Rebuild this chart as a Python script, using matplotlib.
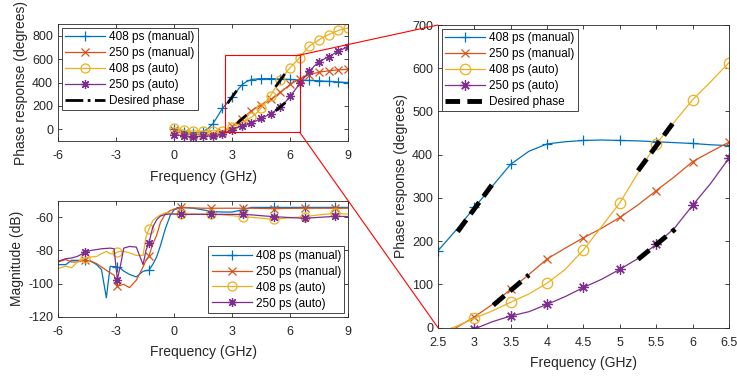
import numpy as np
import matplotlib
matplotlib.use('Agg')
import matplotlib.pyplot as plt
from matplotlib.patches import Rectangle, ConnectionPatch

plt.rcParams['font.family'] = ['Liberation Sans', 'DejaVu Sans']
plt.rcParams['axes.unicode_minus'] = False

# ---------------- data ----------------
labels = ['408 ps (manual)', '250 ps (manual)', '408 ps (auto)', '250 ps (auto)']
desired_label = 'Desired phase'

# phase response (degrees) sampled every 0.25 GHz from 0 to 9 GHz
freq_phase = np.arange(0, 9.001, 0.25)
phase_408_manual = [0, -10, -20, -27, -30, -27, -20, 5, 45, 110, 178, 226, 278, 328, 378, 408,
                    425, 430, 433, 434, 433, 432, 430, 428, 426, 423, 421, 420, 418, 417, 415,
                    412, 410, 407, 405, 402, 400]
phase_250_manual = [-10, -25, -35, -42, -45, -47, -47, -45, -40, -33, -25, 0, 25, 54, 89, 123,
                    159, 184, 208, 230, 255, 284, 317, 349, 384, 407, 429, 450, 468, 478, 488,
                    495, 500, 505, 508, 511, 513]
phase_408_auto = [15, 0, -8, -13, -15, -15, -15, -13, -12, -12, -12, 3, 22, 39, 59, 78,
                  103, 135, 180, 234, 289, 358, 425, 476, 527, 569, 613, 665, 710, 740, 765,
                  790, 810, 828, 845, 857, 865]
phase_250_auto = [-45, -50, -55, -60, -63, -62, -58, -57, -55, -50, -40, -22, -3, 14, 27, 37,
                  54, 72, 93, 112, 135, 160, 193, 230, 283, 334, 392, 445, 495, 540, 575,
                  600, 620, 645, 668, 688, 705]

# desired phase segments (NaN separates segments)
desired_freq = [2.77, 3.24, np.nan, 3.26, 3.75, np.nan, 5.25, 5.73, np.nan, 5.25, 5.76]
desired_phase = [222, 330, np.nan, 52, 122, np.nan, 363, 473, np.nan, 158, 228]

# magnitude (dB)
freq_mag = [-6, -5.6, -5.3, -5.0, -4.6, -4.3, -4.0, -3.75, -3.5, -3.3, -3.1, -2.93, -2.75,
            -2.6, -2.3, -1.95, -1.6, -1.45, -1.3, -1.1, -0.9, -0.7, -0.45, -0.2, 0.0, 0.35,
            1.0, 1.5, 1.93, 2.5, 3.0, 3.55, 4.0, 4.5, 5.15, 5.8, 6.75, 7.5, 8.35, 9.0]
mag_408_manual = [-88.6, -88.6, -86, -86, -86, -86.5, -88.6, -91.6, -108.6, -89.6, -89.8, -90,
                  -91, -92.5, -94.5, -96, -92.6, -92.2, -92, -88.5, -84, -77, -67, -59, -55.5,
                  -54, -54.5, -55.5, -56.5, -56.8, -56.8, -55.5, -54, -54, -54, -54, -54, -54,
                  -54, -54]
mag_250_manual = [-87, -85.5, -87, -87, -86, -86.5, -88, -90, -92, -93.5, -95, -101.5, -101,
                  -100.5, -102.5, -98, -90, -86, -83.5, -76, -71, -63, -58, -56, -55, -54,
                  -54.3, -54.5, -54.5, -54.5, -54.5, -54.5, -54.5, -54.6, -54.8, -54.6, -54.5,
                  -54.5, -54.5, -54.5]
mag_408_auto = [-91, -89.5, -90.5, -87, -84.6, -84, -83.6, -82, -80.6, -82, -82, -81, -80.5,
                -80.6, -81.5, -83, -83, -72, -67.2, -62, -60, -58.6, -57.2, -57.5, -58, -58,
                -58, -58, -58.2, -58.5, -59, -59.6, -60, -60.5, -61.2, -60.5, -59.6, -58.5,
                -57.6, -58]
mag_250_auto = [-86.6, -85, -84.6, -83.6, -81.2, -80, -79.5, -79, -78.8, -78.6, -79, -97.6,
                -88, -78.6, -77.6, -78, -88.6, -80, -75.6, -66, -61.5, -59.2, -58.3, -58, -58,
                -58.2, -58.2, -58.2, -58.2, -58.2, -58.2, -58.2, -58.5, -59, -59.6, -60,
                -60.6, -60, -59.4, -59.5]
mag_marker_idx = [4, 11, 18, 25, 28, 31, 34, 36, 38]

# ---------------- style ----------------
colors = ['#0072BD', '#D95319', '#EDB120', '#7E2F8E']
markers = ['+', 'x', 'o', (8, 2, 0)]
msize_scale = [1.0, 0.85, 1.0, 1.0]
ink = '#262626'

phase_series = [phase_408_manual, phase_250_manual, phase_408_auto, phase_250_auto]
mag_series = [mag_408_manual, mag_250_manual, mag_408_auto, mag_250_auto]

fig = plt.figure(figsize=(7.37, 3.76), dpi=100)
ax1 = fig.add_axes([0.0787, 0.625, 0.3935, 0.311])
ax2 = fig.add_axes([0.0787, 0.158, 0.3935, 0.308])
ax3 = fig.add_axes([0.5943, 0.1285, 0.3948, 0.805])


def style(ax):
    for s in ax.spines.values():
        s.set_color(ink)
        s.set_linewidth(0.6)
    ax.tick_params(direction='in', top=True, right=True, length=3, width=0.6,
                   colors=ink, labelsize=9, pad=3.5)
    ax.tick_params(axis='x', pad=6.5)


def leg(ax, loc, **kw):
    lg = ax.legend(loc=loc, fontsize=8.5, fancybox=False, framealpha=1,
                   edgecolor=ink, labelspacing=0.33, handlelength=3.4,
                   handletextpad=0.3, borderpad=0.3, borderaxespad=0.3, **kw)
    lg.get_frame().set_linewidth(0.6)
    return lg


def draw(ax, xs, series, ms, every):
    for vals, c, m, k, lab in zip(series, colors, markers, msize_scale, labels):
        mfc = 'none' if m == 'o' else c
        ax.plot(xs, vals, color=c, lw=0.9, marker=m, markersize=ms * k, markevery=every,
                mfc=mfc, mec=c, mew=0.9, label=lab)


XLP = 5.5

# top-left: phase
draw(ax1, freq_phase, phase_series, 6.5, 2)
ax1.plot(desired_freq, desired_phase, color='black', lw=2, ls='-.', label=desired_label)
ax1.set_xlim(-6, 9)
ax1.set_ylim(-100, 900)
ax1.set_xticks([-6, -3, 0, 3, 6, 9])
ax1.set_yticks([0, 200, 400, 600, 800])
ax1.set_xlabel('Frequency (GHz)', fontsize=10, color=ink, labelpad=XLP)
ax1.set_ylabel('Phase response (degrees)', fontsize=10, color=ink, labelpad=3)
style(ax1)
leg(ax1, 'upper left')
ax1.add_patch(Rectangle((2.65, -25), 3.85, 660, fill=False, ec='red', lw=0.8, zorder=6))

# bottom-left: magnitude
draw(ax2, freq_mag, mag_series, 6.5, mag_marker_idx)
ax2.set_xlim(-6, 9)
ax2.set_ylim(-120, -50)
ax2.set_xticks([-6, -3, 0, 3, 6, 9])
ax2.set_yticks([-120, -100, -80, -60])
ax2.set_xlabel('Frequency (GHz)', fontsize=10, color=ink, labelpad=XLP)
ax2.set_ylabel('Magnitude (dB)', fontsize=10, color=ink, labelpad=3)
style(ax2)
leg(ax2, 'lower right')

# right: zoomed phase
draw(ax3, freq_phase, phase_series, 7.5, 2)
ax3.plot(desired_freq, desired_phase, color='black', lw=3.5, ls=(0, (3, 1.5)),
         label=desired_label)
ax3.set_xlim(2.5, 6.5)
ax3.set_ylim(0, 700)
ax3.set_xticks([2.5, 3, 3.5, 4, 4.5, 5, 5.5, 6, 6.5])
ax3.set_xticklabels(['2.5', '3', '3.5', '4', '4.5', '5', '5.5', '6', '6.5'])
ax3.set_yticks([0, 100, 200, 300, 400, 500, 600, 700])
ax3.set_xlabel('Frequency (GHz)', fontsize=10, color=ink, labelpad=XLP)
ax3.set_ylabel('Phase response (degrees)', fontsize=10, color=ink, labelpad=3)
style(ax3)
leg(ax3, 'upper left')

# connection lines
for ya, yb in [(635, 700), (-25, 0)]:
    cp = ConnectionPatch(xyA=(6.5, ya), coordsA=ax1.transData,
                         xyB=(2.5, yb), coordsB=ax3.transData,
                         color='red', lw=0.8, zorder=10)
    fig.add_artist(cp)

fig.savefig('out.png', dpi=100)
